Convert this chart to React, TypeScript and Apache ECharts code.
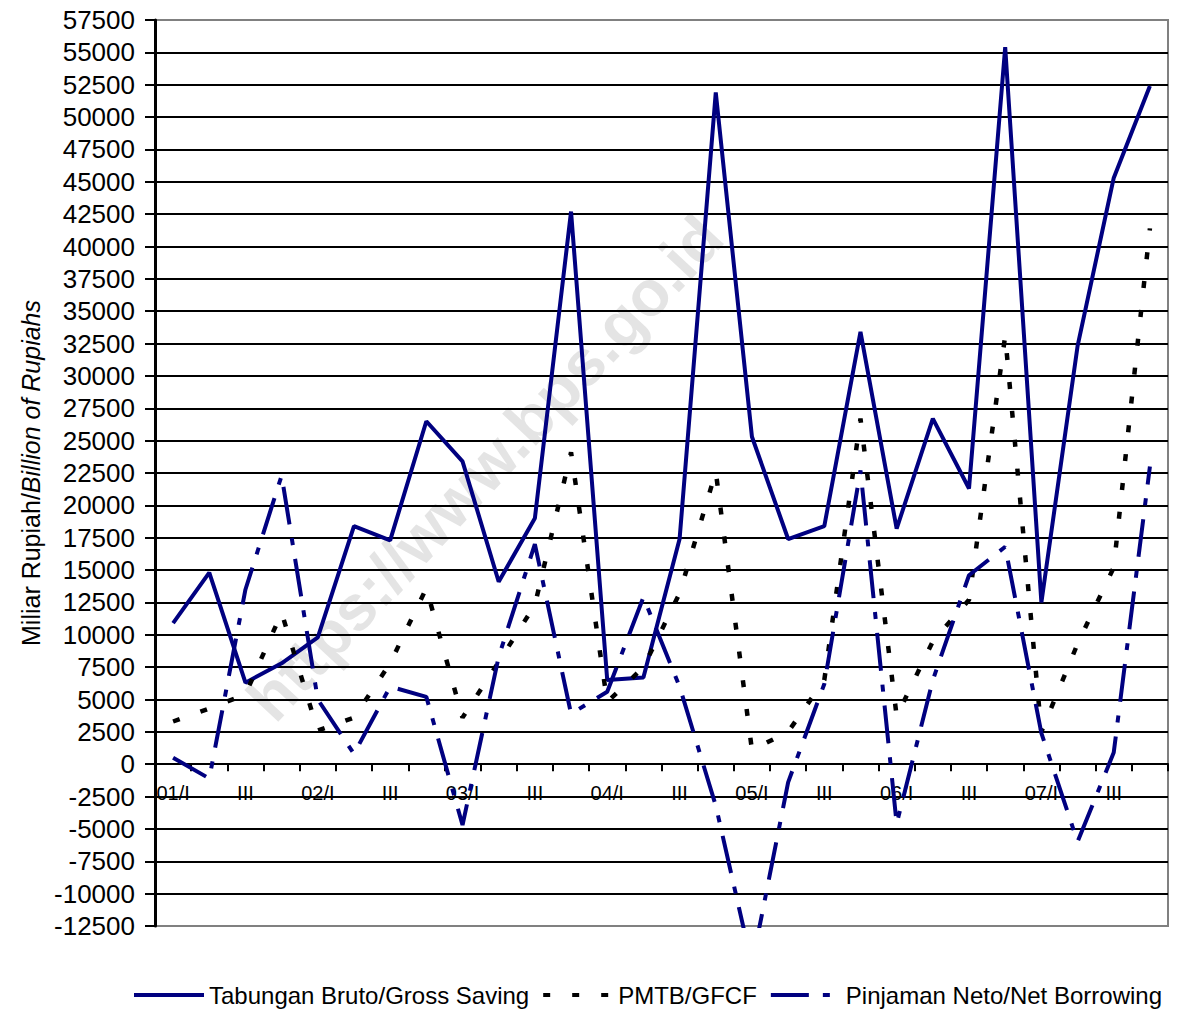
import React, { useEffect, useRef } from "react";
import * as echarts from "echarts";

const categories = [
  "01/I", "II", "III", "IV",
  "02/I", "II", "III", "IV",
  "03/I", "II", "III", "IV",
  "04/I", "II", "III", "IV",
  "05/I", "II", "III", "IV",
  "06/I", "II", "III", "IV",
  "07/I", "II", "III", "IV",
];

const grossSaving = [
  10900, 14800, 6300, 7800, 9800, 18400, 17300, 26500, 23400, 14100, 19000, 42700,
  6500, 6700, 17400, 51900, 25300, 17400, 18400, 33400, 18200, 26700, 21300, 55400,
  12500, 32300, 45300, 52400,
];

const gfcf = [
  3300, 4300, 5400, 11700, 2600, 3600, 7800, 13600, 3600, 7900, 12300, 24100,
  4800, 7500, 13200, 22600, 1100, 2500, 6500, 26700, 3700, 9500, 12700, 33100,
  2500, 9300, 15200, 41400,
];

const netBorrowing = [
  500, -1100, 13500, 22300, 5000, 800, 6000, 5200, -4700, 8300, 17000, 3900,
  5600, 12900, 6000, -3200, -15500, -1400, 6200, 22700, -4600, 6500, 14600, 16800,
  2400, -6000, 900, 23000,
];

const seriesNames = [
  "Tabungan Bruto/Gross Saving",
  "PMTB/GFCF",
  "Pinjaman Neto/Net Borrowing",
];

const yMin = -12500;
const yMax = 57500;
const yStep = 2500;

export default function App() {
  const ref = useRef<HTMLDivElement>(null);

  useEffect(() => {
    if (!ref.current) return;
    const chart = echarts.init(ref.current, undefined, { renderer: "svg" });
    const gridTop = 20;
    const gridBottom = 85;
    const plotH = 1011 - gridTop - gridBottom;
    // distance from the bottom of the plot to the zero line
    const zeroOffset = ((0 - yMin) / (yMax - yMin)) * plotH;
    const nLines = Math.round((yMax - yMin) / yStep) + 1;
    const splitColors: string[] = [];
    for (let i = 0; i < nLines; i++) {
      splitColors.push(i === 0 || i === nLines - 1 ? "#808080" : "#000000");
    }
    const font = "'Liberation Sans', Arial, sans-serif";
    chart.setOption({
      animation: false,
      backgroundColor: "#ffffff",
      textStyle: { fontFamily: font },
      grid: {
        left: 155,
        right: 31,
        top: gridTop,
        bottom: gridBottom,
        show: true,
        borderColor: "#808080",
        borderWidth: 2,
        backgroundColor: "transparent",
      },
      graphic: [
        {
          type: "text",
          x: 485,
          y: 468,
          rotation: 0.82,
          z: -10,
          silent: true,
          style: {
            text: "https://www.bps.go.id",
            fill: "rgba(120,120,120,0.2)",
            font: "bold 64px 'Liberation Sans', Arial, sans-serif",
            textAlign: "center",
            textVerticalAlign: "middle",
          },
        },
      ],
      legend: {
        left: 127,
        top: 978,
        itemWidth: 70,
        itemHeight: 14,
        itemGap: 12,
        itemStyle: { opacity: 0 },
        lineStyle: { width: 4 },
        textStyle: { fontSize: 24, color: "#000", fontFamily: font },
        data: seriesNames,
      },
      xAxis: {
        type: "category",
        data: categories,
        boundaryGap: true,
        position: "bottom",
        offset: -zeroOffset,
        axisLine: { onZero: false, lineStyle: { color: "#000", width: 2 } },
        axisTick: { show: true, interval: 0, length: 7, lineStyle: { color: "#000", width: 2 } },
        axisLabel: { interval: 1, margin: 19, fontSize: 20, color: "#000", fontFamily: font },
        splitLine: { show: false },
      },
      yAxis: {
        type: "value",
        min: yMin,
        max: yMax,
        interval: yStep,
        name: "{a|Miliar Rupiah/}{b|Billion of Rupiahs}",
        nameLocation: "middle",
        nameRotate: 90,
        nameGap: 108,
        nameTextStyle: {
          rich: {
            a: { fontSize: 25, color: "#000", fontFamily: font },
            b: { fontSize: 25, color: "#000", fontStyle: "italic", fontFamily: font },
          },
        },
        axisLine: { show: true, lineStyle: { color: "#000", width: 3 } },
        axisTick: { show: true, length: 10, lineStyle: { color: "#000", width: 2 } },
        axisLabel: {
          fontSize: 26,
          color: "#000",
          margin: 20,
          fontFamily: font,
          formatter: (v: number) => String(v),
        },
        splitLine: { show: true, lineStyle: { color: splitColors, width: 2 } },
      },
      series: [
        {
          name: seriesNames[0],
          type: "line",
          data: grossSaving,
          symbol: "none",
          lineStyle: { color: "#000080", width: 4, type: "solid" },
          itemStyle: { color: "#000080" },
        },
        {
          name: seriesNames[1],
          type: "line",
          data: gfcf,
          symbol: "none",
          lineStyle: { color: "#000000", width: 4.5, type: [7, 22] },
          itemStyle: { color: "#000000" },
        },
        {
          name: seriesNames[2],
          type: "line",
          data: netBorrowing,
          symbol: "none",
          lineStyle: { color: "#000080", width: 4, type: [38, 14, 7, 14] },
          itemStyle: { color: "#000080" },
        },
      ],
    });
    return () => chart.dispose();
  }, []);

  return (
    <div
      ref={ref}
      style={{ position: "fixed", left: 0, top: 0, width: 1199, height: 1011, background: "#fff" }}
    />
  );
}
